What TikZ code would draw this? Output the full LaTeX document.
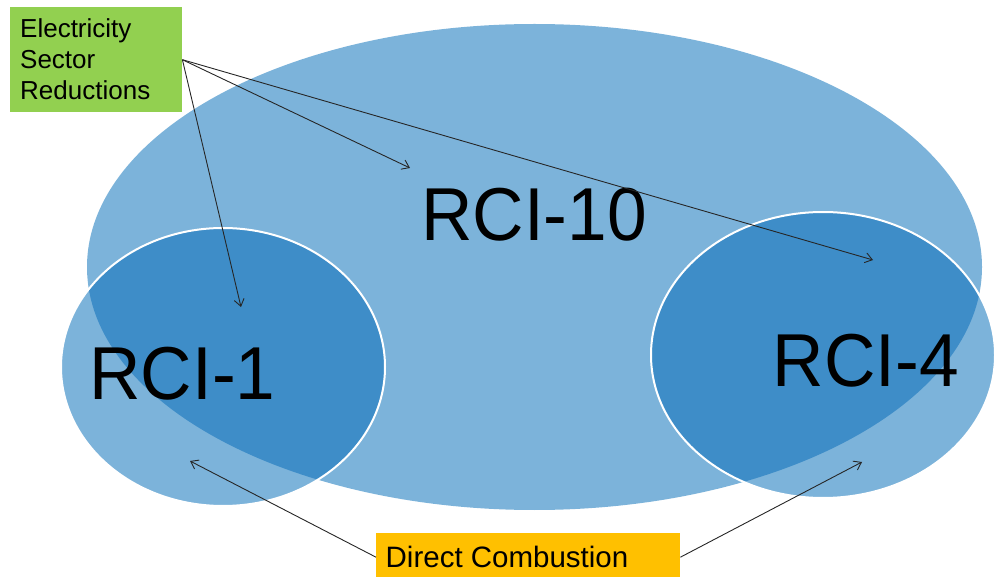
\documentclass[tikz,border=0pt]{standalone}
\usepackage{fontspec}
\setmainfont{Liberation Sans}
\newfontfamily\bigfont[FakeStretch=0.95]{Liberation Sans}
\usetikzlibrary{arrows.meta}
\definecolor{lightb}{HTML}{7CB3DA}
\definecolor{darkb}{HTML}{3E8DC8}
\definecolor{boxgreen}{HTML}{92D050}
\definecolor{boxgold}{HTML}{FFC000}
\begin{document}
\begin{tikzpicture}[x=1pt,y=-1pt,
  conn/.style={draw=black!85, line width=0.9pt, -{Straight Barb[length=7pt,width=10pt]}},
  bigtext/.style={font=\bigfont\fontsize{75}{75}\selectfont, inner sep=0pt, anchor=base},
  ring/.style={draw=white, line width=2pt}]
\useasboundingbox (0,0) rectangle (994,577);
% ellipses
\path[fill=lightb] (534.5,267) ellipse [x radius=447.5, y radius=243];
\path[fill=lightb] (223,367) ellipse [x radius=162, y radius=139];
\path[fill=lightb] (823,355) ellipse [x radius=172, y radius=143];
\begin{scope}
  \clip (534.5,267) ellipse [x radius=447.5, y radius=243];
  \path[fill=darkb] (223,367) ellipse [x radius=162, y radius=139];
  \path[fill=darkb] (823,355) ellipse [x radius=172, y radius=143];
\end{scope}
\draw[ring] (223,367) ellipse [x radius=162, y radius=139];
\draw[ring] (823,355) ellipse [x radius=172, y radius=143];
% labels
\node[bigtext] (rci10) at (534,241) {RCI-10};
\node[bigtext] (rci1) at (182.5,400) {RCI-1};
\node[bigtext] (rci4) at (866,387) {RCI-4};
% boxes
\node[fill=boxgreen, minimum width=172pt, minimum height=105pt, inner sep=0pt, anchor=north west] (esr) at (10,7) {};
\node[anchor=north west, align=left, inner sep=0pt, font=\fontsize{26}{31}\selectfont] (esrtext) at (20,18.4) {Electricity\\Sector\\Reductions};
\node[fill=boxgold, minimum width=304pt, minimum height=48pt, inner sep=0pt, anchor=north west] (dc) at (376,533) {};
\node[font=\fontsize{29.5}{30}\selectfont, inner sep=0pt, anchor=base] (dctext) at (507,567) {Direct Combustion};
% arrow targets
\coordinate (t1) at (241,307);
\coordinate (t2) at (410,168);
\coordinate (t3) at (873,260);
\coordinate (t4) at (190,461);
\coordinate (t5) at (862,462);
\draw[conn] (esr.east) -- (t1);
\draw[conn] (esr.east) -- (t2);
\draw[conn] (esr.east) -- (t3);
\draw[conn] (dc.west) -- (t4);
\draw[conn] (dc.east) -- (t5);
\end{tikzpicture}
\end{document}
